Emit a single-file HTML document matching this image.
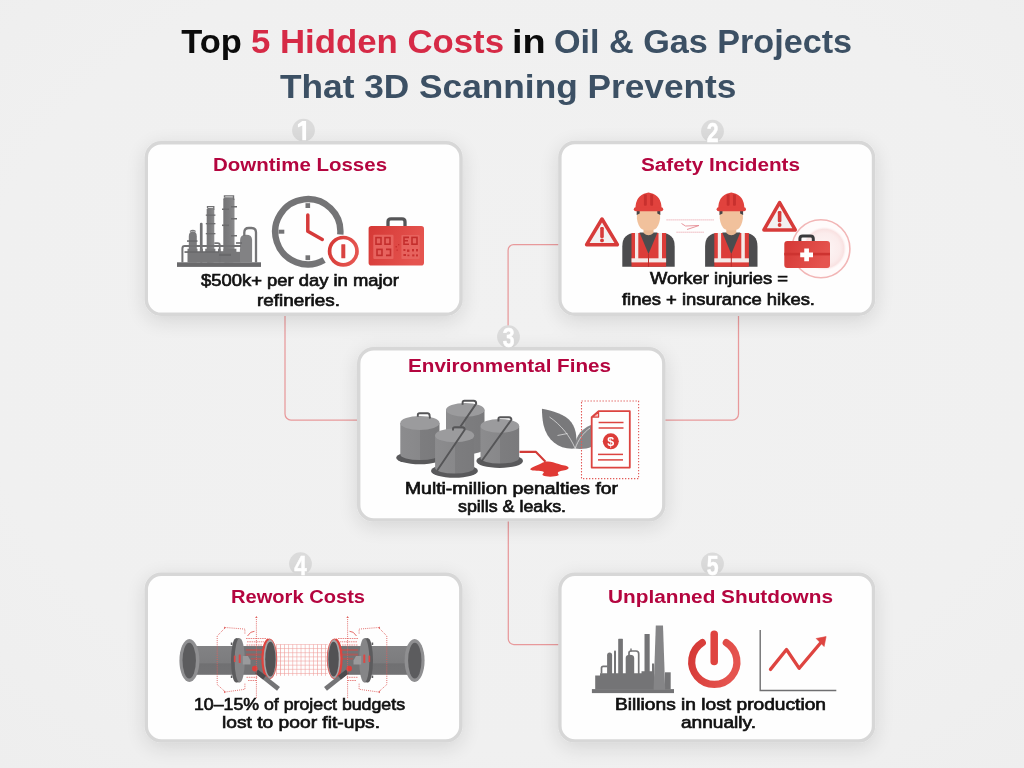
<!DOCTYPE html>
<html><head><meta charset="utf-8">
<style>
html,body{margin:0;padding:0;background:#f0f0f0;}
body{width:1024px;height:768px;overflow:hidden;font-family:"Liberation Sans",sans-serif;}
svg{display:block;will-change:transform}
text{font-family:"Liberation Sans",sans-serif;font-weight:bold}
.t{font-size:34px}
.h{font-size:19.2px;fill:#b4053f}
.b text{font-size:15.9px;fill:#111;font-weight:normal;stroke:#111;stroke-width:0.65px}
.n{font-size:28px;fill:#fff}
</style></head><body>
<svg width="1024" height="768" viewBox="0 0 1024 768">
<defs>
<radialGradient id="bg" cx="50%" cy="45%" r="75%">
<stop offset="0" stop-color="#f1f1f1"/><stop offset="0.7" stop-color="#f0f0f0"/><stop offset="1" stop-color="#eeeeee"/>
</radialGradient>
<filter id="sh" x="-15%" y="-25%" width="130%" height="155%">
<feGaussianBlur in="SourceAlpha" stdDeviation="10"/><feOffset dy="5"/><feComponentTransfer><feFuncA type="linear" slope="0.12"/></feComponentTransfer>
<feMerge><feMergeNode/><feMergeNode in="SourceGraphic"/></feMerge>
</filter>
</defs>
<rect width="1024" height="768" fill="url(#bg)"/>

<!-- connectors -->
<g id="conn" fill="none" stroke="#e8999b" stroke-width="1.250">
<path d="M285 314V414a6 6 0 0 0 6 6H358"/>
<path d="M738.5 314V414a6 6 0 0 1 -6 6H665"/>
<path d="M560 244.700H513.600a5.500 5.500 0 0 0 -5.500 5.500V326"/>
<path d="M508.300 520V639a5.500 5.500 0 0 0 5.500 5.500H560"/>
</g>

<!-- number circles -->
<g id="nums" fill="#dbdbdb">
<circle cx="303.500" cy="130.200" r="11.400"/>
<circle cx="712.500" cy="131.200" r="11.400"/>
<circle cx="508.500" cy="336.700" r="11.400"/>
<circle cx="300.500" cy="563.700" r="11.400"/>
<circle cx="712.500" cy="563.800" r="11.400"/>
</g>

<!-- boxes -->
<g id="boxes" fill="#fefefe" stroke="#d7d7d7" stroke-width="3.400" filter="url(#sh)">
<rect x="146.300" y="142.700" width="314.700" height="171.600" rx="15"/>
<rect x="559.900" y="142.500" width="313.600" height="171.800" rx="15"/>
<rect x="358.700" y="348.700" width="305.100" height="171.200" rx="15"/>
<rect x="146.300" y="574.300" width="314.500" height="166.600" rx="15"/>
<rect x="559.900" y="574.300" width="313.600" height="166.600" rx="15"/>
</g>

<!-- titles -->
<g id="title" class="t">
<text x="181.20" y="52.500" textLength="60.63" lengthAdjust="spacingAndGlyphs" fill="#0b0b0b">Top</text>
<text x="251.00" y="52.500" textLength="253.02" lengthAdjust="spacingAndGlyphs" fill="#d62a46">5 Hidden Costs</text>
<text x="512.00" y="52.500" textLength="33.66" lengthAdjust="spacingAndGlyphs" fill="#0b0b0b">in</text>
<text x="554.00" y="52.500" textLength="298.01" lengthAdjust="spacingAndGlyphs" fill="#3c5064">Oil &amp; Gas Projects</text>
<text x="280.00" y="97.500" textLength="456.41" lengthAdjust="spacingAndGlyphs" fill="#3c5064">That 3D Scanning Prevents</text>
</g>

<g id="heads" class="h">
<text x="213.00" y="171" textLength="174.02" lengthAdjust="spacingAndGlyphs">Downtime Losses</text>
<text x="641.00" y="171" textLength="159.02" lengthAdjust="spacingAndGlyphs">Safety Incidents</text>
<text x="408.00" y="372" textLength="203.02" lengthAdjust="spacingAndGlyphs">Environmental Fines</text>
<text x="231.00" y="603" textLength="134.03" lengthAdjust="spacingAndGlyphs">Rework Costs</text>
<text x="608.00" y="603" textLength="225.02" lengthAdjust="spacingAndGlyphs">Unplanned Shutdowns</text>
</g>

<g id="body" class="b">
<text x="201.00" y="286.250" textLength="198.00" lengthAdjust="spacingAndGlyphs">$500k+ per day in major</text>
<text x="257.00" y="305.750" textLength="83.03" lengthAdjust="spacingAndGlyphs">refineries.</text>
<text x="650.00" y="284" textLength="138.00" lengthAdjust="spacingAndGlyphs">Worker injuries =</text>
<text x="622.00" y="304.500" textLength="193.00" lengthAdjust="spacingAndGlyphs">fines + insurance hikes.</text>
<text x="405.00" y="493.750" textLength="213.00" lengthAdjust="spacingAndGlyphs">Multi-million penalties for</text>
<text x="458.00" y="512" textLength="108.03" lengthAdjust="spacingAndGlyphs">spills &amp; leaks.</text>
<text x="194.00" y="710" textLength="211.00" lengthAdjust="spacingAndGlyphs">10–15% of project budgets</text>
<text x="222.00" y="728" textLength="158.01" lengthAdjust="spacingAndGlyphs">lost to poor fit-ups.</text>
<text x="615.00" y="710" textLength="211.01" lengthAdjust="spacingAndGlyphs">Billions in lost production</text>
<text x="681.00" y="728" textLength="75.03" lengthAdjust="spacingAndGlyphs">annually.</text>
</g>

<!-- digits -->
<g id="digits" class="n" text-anchor="middle" stroke="#fff" stroke-width=".500">
<path d="M302.300 121H306.100V140.200H302.300V125.600L297.900 127.400V124.300z" stroke="none"/>
<text x="712.6" y="142.5" transform="translate(712.6 0) scale(0.76 1) translate(-712.6 0)">2</text>
<text x="508.6" y="347.2" transform="translate(508.6 0) scale(0.76 1) translate(-508.6 0)">3</text>
<text x="300.6" y="575.2" transform="translate(300.6 0) scale(0.8 1) translate(-300.6 0)">4</text>
<text x="712.6" y="575.1" transform="translate(712.6 0) scale(0.76 1) translate(-712.6 0)">5</text>
</g>

<!-- ICONS -->
<g id="icons">
<defs>
<linearGradient id="redg" x1="0" y1="0" x2="1" y2="0.3"><stop offset="0" stop-color="#d53835"/><stop offset="1" stop-color="#e5544f"/></linearGradient>
<linearGradient id="twr" x1="0" y1="0" x2="1" y2="0"><stop offset="0" stop-color="#747476"/><stop offset="0.5" stop-color="#7c7c7e"/><stop offset="1" stop-color="#8a8a8c"/></linearGradient>
</defs>
<!-- refinery -->
<g id="refinery">
<rect x="177" y="262.300" width="84" height="4.600" fill="#69696b"/>
<!-- left small tank -->
<path d="M188.800 262.500V236.500q0-5 4-5.200h0q4 .2 4 5.200V262.500z" fill="#7a7a7c"/>
<path d="M190 231.500q2.800-2.200 5.600 0" fill="none" stroke="#7a7a7c" stroke-width="1.200"/>
<rect x="187" y="240.300" width="10.500" height="1.500" fill="#69696b"/>
<!-- thin pipe -->
<rect x="199.900" y="222.700" width="2.700" height="40" rx="1.200" fill="#707072"/>
<!-- mid tower -->
<rect x="206.700" y="208" width="7.600" height="55" rx="1.500" fill="url(#twr)"/>
<path d="M207.500 208v-1.300h6.300v3" fill="none" stroke="#727274" stroke-width="1.300"/>
<g fill="#6c6c6e"><rect x="205.800" y="214.500" width="9.600" height="1.300"/><rect x="205.800" y="223" width="9.600" height="1.300"/><rect x="205.800" y="233" width="9.600" height="1.300"/></g>
<!-- tall tower -->
<rect x="223.300" y="197.300" width="11.200" height="65.500" rx="2" fill="url(#twr)"/>
<path d="M224.500 197.500v-1.600h9v4" fill="none" stroke="#727274" stroke-width="1.400"/>
<g fill="#6c6c6e"><rect x="222" y="208.500" width="7" height="1.500"/><rect x="231" y="206" width="6" height="1.500"/><rect x="222" y="224.500" width="7" height="1.600"/><rect x="231" y="218" width="6" height="1.500"/><rect x="231" y="235" width="6" height="1.500"/><rect x="227" y="245.500" width="6" height="1.500"/></g>
<!-- right tank -->
<path d="M240.100 262.500V240q0-5.200 6-5.200t6 5.200V262.500z" fill="#828284"/>
<path d="M244.300 236V232.500q0-4.500 4.500-4.500H251.500q4.500 0 4.500 4.500V262.500" fill="none" stroke="#757577" stroke-width="2.300"/>
<!-- lower body and pipes -->
<path d="M187.500 248.800H240.500V262.500H187.500z" fill="#777779"/>
<path d="M182.400 262.500V248.500q0-2.400 2.400-2.400H241" fill="none" stroke="#727274" stroke-width="2"/>
<rect x="184.500" y="251.200" width="36" height="1.700" fill="#6a6a6c"/>
<path d="M214.300 243.200h3.500q2 0 2 2v17" fill="none" stroke="#757577" stroke-width="1.800"/>
<rect x="236" y="242.200" width="6" height="1.600" fill="#6c6c6e"/>
<rect x="219" y="253.800" width="12" height="2.200" fill="#69696b"/>
<g fill="#fdfdfd"><rect x="197.500" y="247.200" width="2.300" height="4"/><rect x="203" y="247.200" width="2.200" height="4"/><rect x="215.400" y="247.200" width="2.600" height="4"/><rect x="220.800" y="247.200" width="2.400" height="4"/><rect x="236.400" y="247.200" width="3.500" height="4.600"/><rect x="184" y="247.300" width="3" height="3.600"/></g>
</g>
<!-- clock -->
<g id="clock">
<path d="M340.280 234.550A32.600 32.600 0 1 0 324.100 259.930" fill="none" stroke="#747476" stroke-width="6.400"/>
<g fill="#747476"><rect x="305.500" y="203.200" width="4.600" height="4.800"/><rect x="305.500" y="255.300" width="4.600" height="4.800"/><rect x="278.500" y="229.700" width="5.800" height="4"/></g>
<path d="M307.800 215V231.300L322.300 239.500" fill="none" stroke="#d63a3a" stroke-width="3.500" stroke-linecap="round" stroke-linejoin="round"/>
<circle cx="343.300" cy="251.200" r="13.700" fill="#fefefe" stroke="url(#redg)" stroke-width="3.700"/>
<rect x="341.300" y="244.200" width="4" height="14.100" rx="0.500" fill="#d94341"/>
</g>
<!-- briefcase -->
<g id="brief">
<path d="M388 226V221.800q0-3 3-3H402q3 0 3 3V226" fill="none" stroke="#555557" stroke-width="3.300"/>
<rect x="368.600" y="226" width="55.400" height="39.500" rx="2.800" fill="url(#redg)"/>
<g fill="#e7635e"><rect x="373.300" y="234.700" width="20.200" height="24.400" rx="1"/><rect x="401.400" y="235" width="18.300" height="24" rx="1"/></g>
<g fill="none" stroke="#c42d2c" stroke-width="1.600"><rect x="376" y="237.600" width="5" height="6.600"/><rect x="385" y="237.600" width="5" height="6.600"/><rect x="377" y="249.400" width="5" height="6"/><path d="M386 249.400h4.500v6h-4.500"/><path d="M409 237.400h-5v6.800h5M404 240.800h4"/><rect x="412" y="237.400" width="5" height="6.800"/></g>
<g fill="#c9302f"><rect x="403.400" y="249" width="2" height="2"/><rect x="407" y="249.500" width="2.400" height="2.400"/><rect x="412" y="249" width="2" height="2.400"/><rect x="416" y="249" width="2" height="2.400"/><rect x="403.400" y="254" width="2.600" height="2"/><rect x="407.400" y="254.600" width="2" height="1.600"/><rect x="412.200" y="254.400" width="2.200" height="2"/><rect x="416" y="254.400" width="2" height="2"/><rect x="395.500" y="246" width="1.500" height="1.500"/><rect x="398" y="244" width="1.300" height="1.300"/><rect x="396.500" y="249.500" width="1.300" height="1.300"/></g>
</g>
<!-- BOX2 -->
<defs>
<g id="worker">
<!-- body -->
<path d="M-26.200 34.300V14q0-13.500 13.500-13.500H12.700q13.500 0 13.500 13.500V34.300z" fill="#4c4c4e"/>
<!-- vest -->
<path d="M-17 .500H17.600V34.300H-17z" fill="#dc3d39"/>
<!-- stripes -->
<rect x="-13.500" y=".500" width="3.300" height="26" fill="#f4eae8"/>
<rect x="10" y=".500" width="3.500" height="26" fill="#f4eae8"/>
<rect x="-17" y="25.800" width="34.600" height="4.100" fill="#f4eae8"/>
<!-- v neck -->
<path d="M-9 0H9L0 21.600z" fill="#4c4c4e"/>
<path d="M0 21V34.300" stroke="#b92d2b" stroke-width="1"/>
<!-- neck + face -->
<path d="M-5 -5H5V.500Q0 5 -5 .500z" fill="#eab892"/>
<path d="M-11.600 -21.500H11.600V-14Q10.500 -6 6.500 -3.200Q0 -.600 -6.500 -3.200Q-10.500 -6 -11.600 -14z" fill="#f1c19c"/>
<!-- hair -->
<path d="M-11.800 -21.500h3v2.500l-3 1.600z" fill="#454547"/><path d="M11.800 -21.500h-3v2.500l3 1.600z" fill="#454547"/>
<!-- helmet -->
<path d="M-13 -23.800Q-13.200 -37 -2 -39.600Q0 -40.600 2 -39.600Q13.200 -37 13 -23.800z" fill="#e1423d"/>
<rect x="-14.700" y="-25.200" width="29.400" height="4" rx="2" fill="#e1423d"/>
<rect x="-4.600" y="-38.200" width="2.900" height="11.500" rx="1" fill="#c8302e"/>
<rect x="1.700" y="-38.200" width="2.900" height="11.500" rx="1" fill="#c8302e"/>
</g>
<g id="warn">
<path d="M0 -12.200L14.600 12.400H-14.600z" fill="#f3f1f1" stroke="#d73b3a" stroke-width="3.500" stroke-linejoin="round"/>
<rect x="-1.800" y="-5.400" width="3.600" height="11.300" rx="1.200" fill="#d73b3a"/>
<circle cx="0" cy="8" r="1.900" fill="#d73b3a"/>
</g>
<radialGradient id="pinkc" cx="50%" cy="50%" r="50%"><stop offset="0" stop-color="#fdf5f5"/><stop offset="0.7" stop-color="#fbecec"/><stop offset="0.88" stop-color="#f9e2e2"/><stop offset="1" stop-color="#fdf3f3" stop-opacity="0"/></radialGradient>
</defs>
<g id="box2">
<circle cx="820.900" cy="248.800" r="29" fill="#fffbfb" stroke="#f2b6b6" stroke-width="1.600"/>
<circle cx="824.500" cy="248.600" r="22" fill="url(#pinkc)"/>
<g fill="#d73b3a">
<path d="M602 219L617.400 244.700H586.600z" fill="#f3f1f1" stroke="#d73b3a" stroke-width="3.500" stroke-linejoin="round"/>
<rect x="600.200" y="227" width="3.600" height="11" rx="1.200"/><circle cx="602" cy="240.400" r="1.900"/>
<path d="M779.600 202.600L795.300 229.900H763.900z" fill="#f3f1f1" stroke="#d73b3a" stroke-width="3.500" stroke-linejoin="round"/>
<rect x="777.800" y="211" width="3.600" height="11.300" rx="1.200"/><circle cx="779.600" cy="225" r="1.900"/>
</g>
<use href="#worker" x="648.500" y="232.500"/>
<use href="#worker" x="731.300" y="232.500"/>
<g stroke="#eaa3ab" stroke-width="1" fill="none" stroke-dasharray="1.200 .800">
<path d="M666.500 219.900H714"/><path d="M676.500 232.200H704.500"/>
</g>
<path d="M681.500 223.500l4 2.500 13.500 -.500-12 4" fill="none" stroke="#e58a92" stroke-width=".900"/>
<!-- first aid -->
<path d="M799.900 242V238.800q0-2.800 2.800-2.800H810.500q2.800 0 2.800 2.800V242" fill="none" stroke="#3a3a3c" stroke-width="3"/>
<rect x="784.300" y="241" width="45.700" height="27" rx="3" fill="url(#redg)"/>
<rect x="784.300" y="252.800" width="45.700" height="2.600" fill="#cd3330"/>
<path d="M804.250 248.400h4.700v4.050h4.050v4.700h-4.050v4.050h-4.700v-4.050h-4.050v-4.700h4.050z" fill="#fff"/>
</g>
<!-- BOX3 -->
<defs>
<linearGradient id="cyl" x1="0" y1="0" x2="1" y2="0"><stop offset="0" stop-color="#8c8c8e"/><stop offset="0.5" stop-color="#88888a"/><stop offset="0.5" stop-color="#7d7d7f"/><stop offset="1" stop-color="#7a7a7c"/></linearGradient>
</defs>
<g id="box3">
<!-- tank B back -->
<g>
<path d="M446 409.800V448a19.250 6.500 0 0 0 38.500 0V409.800z" fill="url(#cyl)"/>
<ellipse cx="465.250" cy="409.800" rx="19.250" ry="6.900" fill="#9b9b9d"/>
<path d="M462.600 404.800V402.600q0-1.800 1.800-1.800H473.600q2.600 0 2.600 2.800L460.500 426.500" fill="none" stroke="#555557" stroke-width="1.900" stroke-linejoin="round"/>
</g>
<!-- tank A left -->
<g>
<ellipse cx="419.850" cy="457.700" rx="23.650" ry="6.600" fill="#59595b"/>
<path d="M400.300 423V454.500a19.600 5.600 0 0 0 39.200 0V423z" fill="url(#cyl)"/>
<ellipse cx="419.900" cy="423" rx="19.600" ry="6.900" fill="#9b9b9d"/>
<path d="M417.800 416.700V415q0-1.800 1.800-1.800H427.500q1.800 0 2 1.800L430 418.500" fill="none" stroke="#555557" stroke-width="1.900" stroke-linejoin="round"/>
</g>
<!-- tank D right -->
<g>
<ellipse cx="499.700" cy="461" rx="23.300" ry="6.900" fill="#59595b"/>
<path d="M480.500 425.900V458a19.350 5.600 0 0 0 38.700 0V425.900z" fill="url(#cyl)"/>
<ellipse cx="499.850" cy="425.900" rx="19.350" ry="6.900" fill="#9b9b9d"/>
<path d="M498.400 421.500V419q0-1.800 1.800-1.800H509q2.400 0 2.400 2.600L481 462" fill="none" stroke="#555557" stroke-width="1.900" stroke-linejoin="round"/>
</g>
<!-- tank C front -->
<g>
<ellipse cx="454.450" cy="470.900" rx="23.450" ry="6.900" fill="#59595b"/>
<path d="M435.100 435.400V468a19.550 5.600 0 0 0 39.100 0V435.400z" fill="url(#cyl)"/>
<ellipse cx="454.650" cy="435.400" rx="19.550" ry="6.900" fill="#9b9b9d"/>
<path d="M453 430.500V428.800q0-1.600 1.800-1.600H462.500q2.200 0 2.200 2.600L437 470.800" fill="none" stroke="#555557" stroke-width="1.900" stroke-linejoin="round"/>
</g>
<!-- spill -->
<path d="M519.500 451.900H536L545.500 461.800" fill="none" stroke="#d23b37" stroke-width="2.100" stroke-linejoin="round"/>
<path d="M530.200 469.500C531 467 538 465.500 541.500 463.300C544.500 461 549 461 553 462.200C557 463.300 560.500 464.800 564.500 465.500C568.500 466.200 570 468 567 469.600C564 471 559.500 470.800 558 472.400C557 473.600 560 474.500 558 475.600C555 477 546 477.200 543.200 475.600C541 474.200 545 473 543.500 471.800C541 470.300 532 471.500 530.200 469.500z" fill="#e03a35"/>
<!-- leaves -->
<path d="M575.200 448.600C560 450 547.500 441.500 543.500 425C542.200 419 542 413 541.900 408.700C552 410.500 565.500 414 571.500 422.500C577 430.500 577.200 440 575.200 448.600z" fill="#79797b"/>
<path d="M575.200 448.600C574.500 440 578 430 592 424.400V446.500C587 449 580 449.500 575.200 448.600z" fill="#858587"/>
<g fill="none" stroke="#e9e9ea" stroke-width=".700"><path d="M549.500 417C561 425 570 436 575.200 448.600"/><path d="M557.500 435.500L567.500 433.500"/><path d="M575.200 448.600C578 440 583 433 590 428"/></g>
<!-- document -->
<rect x="581.500" y="401" width="57.100" height="77.600" fill="none" stroke="#e25b58" stroke-width="1.100" stroke-dasharray="1.300 1.700"/>
<path d="M598.600 411.200H629.800V467.600H591.700V417.100z" fill="#fefefe" stroke="#dc4440" stroke-width="1.800" stroke-linejoin="round"/>
<path d="M592.600 417.100H598.600V412z" fill="#f6c4c2" stroke="#dc4440" stroke-width="1.200" stroke-linejoin="round"/>
<g stroke="#dc4440" stroke-width="1.500"><path d="M598.600 422.500H623.500"/><path d="M598.600 428H623.500"/><path d="M598 454.400H623"/><path d="M598 459.900H623"/></g>
<circle cx="610.800" cy="441.300" r="8" fill="#dc3c38"/>
<text x="610.800" y="445.800" text-anchor="middle" style="font-size:12.500px;fill:#fff">$</text>
</g>
<!-- BOX4 -->
<defs>
<pattern id="grid" x="276" y="644.200" width="4.100" height="4.100" patternUnits="userSpaceOnUse"><path d="M0 .350H4.100M.350 0V4.100" stroke="#ee9a97" stroke-width=".600" fill="none"/></pattern>
<linearGradient id="pipe" x1="0" y1="0" x2="0" y2="1"><stop offset="0" stop-color="#828284"/><stop offset="0.58" stop-color="#7c7c7e"/><stop offset="0.62" stop-color="#707072"/><stop offset="1" stop-color="#727274"/></linearGradient>
<g id="lpipe">
<!-- body -->
<rect x="192" y="646" width="76" height="28.800" fill="url(#pipe)"/>
<!-- left flange -->
<ellipse cx="189.400" cy="660.500" rx="10" ry="21.400" fill="#8f8f91"/>
<ellipse cx="189.200" cy="660.600" rx="6.700" ry="17.800" fill="#5c5c5e"/>
<!-- section right of collar, red tinted -->
<rect x="244" y="646.300" width="24" height="27.500" fill="#737375"/>
<g fill="#d04a47" opacity=".550"><rect x="246" y="649" width="20" height="2"/><rect x="246" y="653.600" width="20" height="2"/><rect x="251" y="658" width="15" height="1.600"/></g>
<!-- collar -->
<ellipse cx="236" cy="660.300" rx="5" ry="22.100" fill="#5c5c5e"/>
<rect x="236" y="638.200" width="3.500" height="44.200" fill="#5c5c5e"/>
<ellipse cx="239.700" cy="660.300" rx="5.100" ry="22.100" fill="#858587"/>
<g fill="#5c5c5e"><rect x="230.800" y="642.500" width="1.600" height="2.500"/><rect x="230.800" y="675.500" width="1.600" height="2.500"/></g>
<g fill="#dc4845"><rect x="233.800" y="655.500" width="1.700" height="6.500" rx=".600"/><rect x="238.700" y="654.500" width="2" height="8.500" rx=".600"/></g>
<!-- light patch on pipe -->
<path d="M242.800 656H248l2.500 4.500V664.500H242.800z" fill="#9a9a9c"/>
<!-- right end ring -->
<ellipse cx="269.600" cy="658.900" rx="7.200" ry="20" fill="#a4a4a6" stroke="#e0534f" stroke-width=".900"/>
<path d="M268.500 639.200A6.800 19.800 0 0 0 267.500 678" fill="none" stroke="#de443f" stroke-width="2.200"/>
<ellipse cx="270.400" cy="659.200" rx="5.200" ry="17.400" fill="#525254"/>
<!-- lever -->
<path d="M256.600 671.500L278.500 688.800" stroke="#747476" stroke-width="4.700" fill="none"/>
<path d="M256.600 671.500L264.500 677.700" stroke="#4b4b4d" stroke-width="4.700" fill="none"/>
<circle cx="254.800" cy="668.600" r="2.800" fill="#db403c"/>
<!-- red overlay hatch -->
<g stroke="#e25b58" stroke-width=".800" fill="none" opacity=".900">
<path d="M246 638.500H266M247 641.800H264M246.500 645H262" stroke-dasharray="1.600 .700"/>
<path d="M247.500 636Q250.500 631 254.500 631.300" stroke-width="1"/>
<path d="M246.500 677.300H258M248 680.500H256" stroke-dasharray="1.600 .700"/>
</g>
<!-- dotted outline -->
<g stroke="#e05f5c" stroke-width=".900" fill="none" stroke-dasharray="1 1.100">
<path d="M244.900 633.500V629.100L225.400 627.500L217.200 636V684.500L225.400 692L244.900 689.300V683"/>
<path d="M256.400 617V699"/>
</g>
<path d="M255.200 618l1.200-2 1.200 2z" fill="#e05f5c"/>
<path d="M224 626.500l1.800 1.200-1.600 1.600z" fill="#e05f5c"/>
<path d="M224 693.200l1.800-1.200-1.600-1.600z" fill="#e05f5c"/>
</g>
</defs>
<g id="box4">
<rect x="276" y="644.200" width="51.600" height="31.600" fill="url(#grid)"/>
<use href="#lpipe"/>
<use href="#lpipe" transform="translate(604 0) scale(-1 1)"/>
</g>
<!-- BOX5 -->
<g id="box5">
<g fill="#747476">
<rect x="591.900" y="689.100" width="82.100" height="4"/>
<path d="M595.200 689.500V675.600H600V673.200H641.500V671.200H654V689.500z"/>
<rect x="665" y="672.300" width="5.700" height="17"/>
<rect x="644.500" y="634" width="5.200" height="40" rx=".600"/>
<rect x="618.200" y="638.800" width="4.700" height="36" rx=".600"/>
<rect x="614" y="650.600" width="2" height="24" rx=".800"/>
<path d="M607.100 675V655.200q0-2.600 2.500-2.600t2.500 2.600V675z"/>
<path d="M625.700 675V658q0-3.200 4.200-3.200t4.300 3.200V675z"/>
<rect x="652" y="663.500" width="2.200" height="9"/>
</g>
<path d="M653.600 689.500L655.800 625.500H663L665.200 689.500z" fill="#858587"/>
<g fill="none" stroke="#747476" stroke-width="1.700">
<path d="M601.500 673.500V668q0-1.700 1.700-1.700H607.500"/>
<path d="M629 655V653q0-2 2-2H636q2.700 0 2.700 2.700V674"/>
<path d="M631 651.500V648.500" stroke-width="1.400"/>
</g>
<!-- power -->
<path d="M702.320 642.640A22.600 22.600 0 1 0 726.280 642.640" fill="none" stroke="url(#redg)" stroke-width="7.200" stroke-linecap="round"/>
<path d="M714.200 634.300V661.500" stroke="#df433f" stroke-width="7.500" stroke-linecap="round"/>
<!-- chart -->
<path d="M760.200 629.900V690.500H836.300" fill="none" stroke="#6f6f71" stroke-width="1.400"/>
<path d="M770.500 669.400L786.500 649.500L799.200 668.300L820.500 643" fill="none" stroke="#de4440" stroke-width="3.300" stroke-linecap="round" stroke-linejoin="round"/>
<path d="M826.100 636.600L816.200 638.500L824.100 646.500z" fill="#de4440" stroke="#de4440" stroke-width=".600" stroke-linejoin="round"/>
</g>
</g>
</svg>
</body></html>
